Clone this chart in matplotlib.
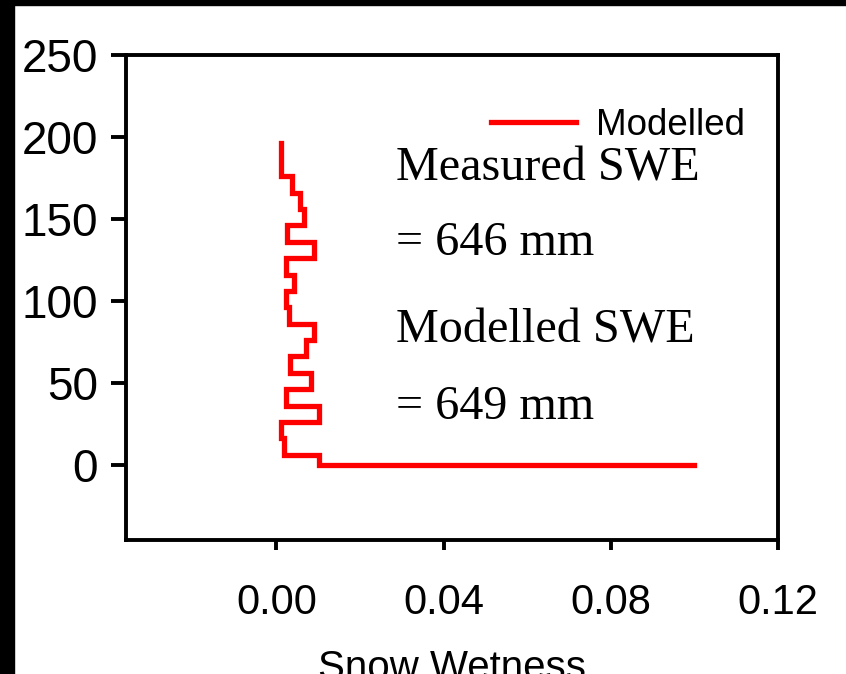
import matplotlib
matplotlib.use('Agg')
from matplotlib import pyplot as plt
from matplotlib.patches import Rectangle

# Layer boundaries (height) and modelled snow wetness for each layer
layer_edges = [0, 6, 16, 26, 36, 46, 56, 66, 76, 86, 96, 106, 116, 126,
               136, 146, 156, 166, 176, 196]
wetness = [0.0103, 0.0019, 0.0011, 0.0103, 0.0022, 0.0083, 0.0033, 0.0071,
           0.0091, 0.0031, 0.0022, 0.0041, 0.0022, 0.0091, 0.0025, 0.0067,
           0.0057, 0.0037, 0.0011]
surface_wetness = 0.1

x_ticks = [0.00, 0.04, 0.08, 0.12]
y_ticks = [0, 50, 100, 150, 200, 250]
notes = ["Measured SWE", "= 646 mm", "Modelled SWE", "= 649 mm"]
note_heights = [181, 135, 82, 35]

# build the stepped profile
xs = [surface_wetness]
ys = [layer_edges[0]]
for i, w in enumerate(wetness):
    xs += [w, w]
    ys += [layer_edges[i], layer_edges[i + 1]]

fig = plt.figure(figsize=(8.46, 6.74), dpi=100)
ax = fig.add_axes([0.1489, 0.1988, 0.7707, 0.7196])

ax.plot(xs, ys, color='red', lw=3.8, label='Modelled', solid_joinstyle='miter')

ax.set_xlim(-0.036, 0.12)
ax.set_ylim(-46, 250)
ax.set_xticks(x_ticks)
ax.set_xticklabels([f"{t:.2f}" for t in x_ticks])
ax.set_yticks(y_ticks)

for s in ax.spines.values():
    s.set_linewidth(2.8)
ax.tick_params(axis='x', direction='out', length=7, width=2.8, pad=24,
               labelsize=30)
ax.tick_params(axis='y', direction='out', length=11, width=2.8, pad=9,
               labelsize=33)
for lab in ax.get_xticklabels() + ax.get_yticklabels():
    lab.set_family('Liberation Sans')

ax.set_xlabel('Snow Wetness', fontsize=29, family='Liberation Sans', labelpad=19)

for txt, h in zip(notes, note_heights):
    ax.text(0.0285, h, txt, fontsize=34.7, family='Liberation Serif',
            va='center', ha='left')

leg = ax.legend(loc='upper right', bbox_to_anchor=(1.0, 0.96), frameon=False,
                handlelength=2.3, handletextpad=0.55,
                prop={'family': 'Liberation Sans', 'size': 26.5})

# black frame around the picture
fig.add_artist(Rectangle((0, 0), 14 / 846, 1, transform=fig.transFigure,
                         color='black', zorder=10))
fig.add_artist(Rectangle((0, 1 - 5 / 674), 1, 5 / 674, transform=fig.transFigure,
                         color='black', zorder=10))

fig.savefig('out.png', dpi=100)
